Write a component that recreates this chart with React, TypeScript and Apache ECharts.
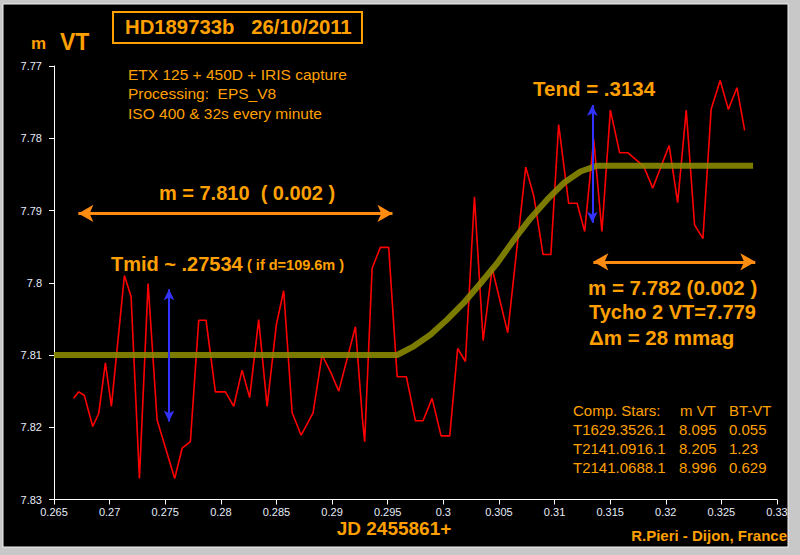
import React, { useEffect, useRef } from "react";
import * as echarts from "echarts";

// Observed magnitudes (JD 2455861 + fraction)
const jd = [
  0.26677, 0.26722, 0.26773, 0.26848, 0.26902, 0.26962, 0.27016, 0.27133, 0.27193, 0.27268,
  0.27346, 0.27427, 0.27585, 0.27652, 0.27726, 0.27801, 0.27867, 0.27951, 0.28041, 0.28116,
  0.28191, 0.28259, 0.2834, 0.28416, 0.28499, 0.28565, 0.28641, 0.28722, 0.28829, 0.2891,
  0.28985, 0.2906, 0.2921, 0.29275, 0.29293, 0.2936, 0.29434, 0.29509, 0.29585, 0.29668,
  0.29749, 0.29818, 0.29899, 0.2998, 0.30058, 0.30129, 0.30199, 0.3028, 0.30358, 0.30439,
  0.30579, 0.30741, 0.30815, 0.30897, 0.30967, 0.31037, 0.31127, 0.31203, 0.31271, 0.31352,
  0.31426, 0.31502, 0.31585, 0.31658, 0.31802, 0.31883, 0.3203, 0.32107, 0.32184, 0.32259,
  0.32334, 0.32408, 0.32489, 0.32563, 0.3264, 0.32709,
];
const mag = [
  7.816, 7.8151, 7.8156, 7.8199, 7.8181, 7.8111, 7.8171, 7.799, 7.8019, 7.8271,
  7.8001, 7.819, 7.8271, 7.8229, 7.822, 7.8052, 7.8052, 7.8151, 7.8151, 7.8171,
  7.8121, 7.8159, 7.8051, 7.8171, 7.8058, 7.8011, 7.818, 7.8211, 7.818, 7.81,
  7.8123, 7.815, 7.8061, 7.8192, 7.822, 7.798, 7.7951, 7.7951, 7.813, 7.813,
  7.8191, 7.8191, 7.816, 7.8212, 7.8212, 7.8091, 7.8109, 7.7881, 7.808, 7.798,
  7.8069, 7.784, 7.7881, 7.7961, 7.7961, 7.7781, 7.789, 7.789, 7.7929, 7.7801,
  7.7929, 7.7761, 7.782, 7.782, 7.7839, 7.7869, 7.781, 7.7889, 7.7761, 7.792,
  7.7939, 7.776, 7.772, 7.776, 7.773, 7.7789,
];

// Model fit (olive curve)
const fitJd = [0.265, 0.29585, 0.29734, 0.29884, 0.30034, 0.30183, 0.30333, 0.30484, 0.30633, 0.30783, 0.30933, 0.31082, 0.31233, 0.31383, 0.32785];
const fitMag = [7.81, 7.81, 7.8088, 7.8072, 7.8051, 7.8028, 7.8001, 7.7973, 7.7941, 7.7911, 7.7885, 7.7862, 7.7846, 7.7838, 7.7838];

const xTickLabels = ["0.265", "0.27", "0.275", "0.28", "0.285", "0.29", "0.295", "0.3", "0.305", "0.31", "0.315", "0.32", "0.325", "0.33"];
const yTickLabels = ["7.77", "7.78", "7.79", "7.8", "7.81", "7.82", "7.83"];

// Annotation arrows (data coordinates)
const tmid = 0.27534;
const tend = 0.3134;
const blueArrows = [
  [[tmid, 7.8009], [tmid, 7.8192]],
  [[tend, 7.7754], [tend, 7.7917]],
];
const orangeArrows = [
  [[0.26719, 7.7904], [0.29543, 7.7904]],
  [[0.31349, 7.7971], [0.32805, 7.7971]],
];

const ORANGE = "#FFA000";
const FF = '"Liberation Sans", Arial, Helvetica, sans-serif';

function txt(text: string, x: number, y: number, size: number, bold = true, align = "left", fill = ORANGE) {
  return {
    type: "text",
    x,
    y,
    z: 100,
    style: {
      text,
      fill,
      font: `${bold ? "bold " : ""}${size}px ${FF}`,
      textAlign: align,
      textVerticalAlign: "middle",
      align,
      verticalAlign: "middle",
    },
  };
}

export default function App() {
  const ref = useRef<HTMLDivElement>(null);
  useEffect(() => {
    if (!ref.current) return;
    const chart = echarts.init(ref.current, null, { renderer: "svg" });
    const axisLabelColor = "#e6ecfa";
    const option: any = {
      animation: false,
      backgroundColor: "#c8c8c8",
      grid: { left: 54, right: 23, top: 66, bottom: 55.5, containLabel: false },
      xAxis: {
        type: "value",
        min: 0.265,
        max: 0.33,
        interval: 0.005,
        axisLine: { show: true, onZero: false, lineStyle: { color: "#ffffff", width: 1 } },
        axisTick: { show: true, length: 5, lineStyle: { color: "#ffffff" } },
        splitLine: { show: false },
        axisLabel: {
          color: axisLabelColor,
          fontSize: 11,
          fontFamily: '"Liberation Sans Narrow", "Arial Narrow", ' + FF,
          margin: 7,
          formatter: (v: number, i: number) => xTickLabels[i] ?? String(+v.toFixed(3)),
        },
      },
      yAxis: {
        type: "value",
        inverse: true,
        min: 7.77,
        max: 7.83,
        interval: 0.01,
        axisLine: { show: true, onZero: false, lineStyle: { color: "#ffffff", width: 1 } },
        axisTick: { show: true, length: 5, lineStyle: { color: "#ffffff" } },
        splitLine: { show: false },
        axisLabel: {
          color: axisLabelColor,
          fontSize: 11,
          fontFamily: '"Liberation Sans Narrow", "Arial Narrow", ' + FF,
          margin: 12,
          formatter: (v: number, i: number) => yTickLabels[i] ?? String(+v.toFixed(3)),
        },
      },
      graphic: [
        { type: "rect", z: -10, shape: { x: 3, y: 4, width: 785, height: 543 }, style: { fill: "#000000", stroke: "#f0f0f0", lineWidth: 1 } },
        { type: "rect", z: -9, shape: { x: 113, y: 12, width: 249, height: 31 }, style: { fill: "none", stroke: ORANGE, lineWidth: 2 } },
        txt("HD189733b   26/10/2011", 125, 27, 20.3),
        txt("m", 31, 43, 17),
        txt("VT", 60, 42, 23),
        txt("ETX 125 + 450D + IRIS capture", 128, 74, 15.5, false),
        txt("Processing:  EPS_V8", 128, 93, 15.5, false),
        txt("ISO 400 & 32s every minute", 128, 113, 15.5, false),
        txt("m = 7.810  ( 0.002 )", 247, 193, 20, true, "center"),
        txt("Tmid ~ .27534", 111, 264, 20),
        txt("( if d=109.6m )", 247, 265, 14.5),
        txt("Tend = .3134", 533, 88, 20.5),
        txt("m = 7.782 (0.002 )", 588, 287, 20.5),
        txt("Tycho 2 VT=7.779", 589, 312, 20),
        txt("\u0394m = 28 mmag", 589, 337, 20.5),
        txt("Comp. Stars:", 573, 410, 15, false),
        txt("m VT", 680, 410, 15, false),
        txt("BT-VT", 729, 410, 15, false),
        txt("T1629.3526.1", 573, 429, 15, false),
        txt("8.095", 679, 429, 15, false),
        txt("0.055", 729, 429, 15, false),
        txt("T2141.0916.1", 573, 448, 15, false),
        txt("8.205", 679, 448, 15, false),
        txt("1.23", 729, 448, 15, false),
        txt("T2141.0688.1", 573, 467, 15, false),
        txt("8.996", 679, 467, 15, false),
        txt("0.629", 729, 467, 15, false),
        txt("JD 2455861+", 394, 528, 19, true, "center"),
        txt("R.Pieri - Dijon, France", 787, 535, 15, true, "right"),
      ],
      series: [
        {
          type: "line",
          data: jd.map((x, i) => [x, mag[i]]),
          symbol: "none",
          lineStyle: { color: "#ff0000", width: 1.6 },
          z: 2,
        },
        {
          type: "line",
          data: fitJd.map((x, i) => [x, fitMag[i]]),
          symbol: "none",
          lineStyle: { color: "rgba(140,140,0,0.88)", width: 6 },
          z: 3,
        },
        {
          type: "line",
          data: [],
          z: 4,
          markLine: {
            silent: true,
            symbol: ["arrow", "arrow"],
            symbolSize: [8, 11],
            label: { show: false },
            lineStyle: { color: "#3333ff", width: 2, type: "solid" },
            data: blueArrows.map((a) => [{ coord: a[0] }, { coord: a[1] }]),
          },
        },
        {
          type: "line",
          data: [],
          z: 4,
          markLine: {
            silent: true,
            symbol: ["arrow", "arrow"],
            symbolSize: [13, 15],
            label: { show: false },
            lineStyle: { color: "#FF8C10", width: 3, type: "solid" },
            data: orangeArrows.map((a) => [{ coord: a[0] }, { coord: a[1] }]),
          },
        },
      ],
    };
    chart.setOption(option);
    return () => chart.dispose();
  }, []);
  return <div ref={ref} style={{ position: "absolute", left: 0, top: 0, width: 800, height: 555 }} />;
}
